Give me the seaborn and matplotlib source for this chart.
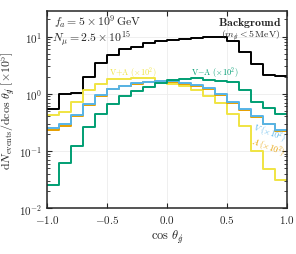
import numpy as np
import pandas as pd
import matplotlib
matplotlib.use("Agg")
import matplotlib.pyplot as plt
import seaborn as sns

sns.set_style("ticks", {"xtick.direction": "in", "ytick.direction": "in",
                        "axes.grid": True, "grid.color": ".93"})
plt.rcParams["font.family"] = "serif"
plt.rcParams["font.serif"] = ["cmr10"]
plt.rcParams["mathtext.fontset"] = "cm"
plt.rcParams["axes.formatter.use_mathtext"] = True
plt.rcParams["axes.unicode_minus"] = False

# Bin edges in cos(theta)
edges = [-1.0, -0.9, -0.8, -0.7, -0.6, -0.5, -0.4, -0.3, -0.2, -0.1, 0.0,
         0.1, 0.2, 0.3, 0.4, 0.5, 0.6, 0.7, 0.8, 0.9, 1.0]

background = [0.55, 0.97, 1.05, 1.95, 3.4, 4.7, 6.0, 6.6, 7.7, 8.5,
              8.7, 9.0, 9.5, 9.9, 9.8, 8.3, 5.3, 3.3, 2.1, 2.05]
v_plus_a = [0.42, 0.48, 0.71, 1.14, 1.5, 1.83, 1.83, 1.9, 1.85, 1.7,
            1.5, 1.34, 1.14, 0.9, 0.68, 0.45, 0.27, 0.1, 0.048, 0.031]
v_only = [0.25, 0.29, 0.42, 0.65, 0.95, 1.22, 1.38, 1.52, 1.6, 1.65,
          1.65, 1.55, 1.42, 1.27, 0.98, 0.71, 0.55, 0.4, 0.3, 0.23]
a_only = [0.23, 0.27, 0.41, 0.63, 0.93, 1.2, 1.37, 1.5, 1.62, 1.68,
          1.62, 1.5, 1.38, 1.22, 0.95, 0.69, 0.53, 0.39, 0.29, 0.22]
v_minus_a = [0.025, 0.061, 0.124, 0.265, 0.45, 0.67, 0.9, 1.11, 1.31, 1.54,
             1.72, 1.82, 1.86, 1.75, 1.68, 1.6, 1.15, 0.71, 0.56, 0.45]

# drawing order: later ones end up on top
channels = ["Background", "V+A", "A", "V", "V-A"]
series = [background, v_plus_a, a_only, v_only, v_minus_a]
colors = {"Background": "black", "V+A": "#f0e442", "V": "#56b4e9",
          "A": "#e69f00", "V-A": "#009e73"}

centers = [(edges[i] + edges[i + 1]) / 2 for i in range(len(edges) - 1)]
df = pd.concat([pd.DataFrame({"cos": centers, "weight": s, "channel": c})
                for c, s in zip(channels, series)], ignore_index=True)

fig = plt.figure(figsize=(2.96, 2.55), dpi=100)
ax = fig.add_axes([0.159, 0.180, 0.811, 0.773])

for c in channels:
    sns.histplot(data=df[df.channel == c], x="cos", weights="weight", bins=edges,
                 element="step", fill=False, color=colors[c], linewidth=1.4, ax=ax)

ax.set_yscale("log")
ax.set(xlim=(-1, 1), ylim=(1e-2, 28))
ax.set_xticks([-1.0, -0.5, 0.0, 0.5, 1.0])
ax.set_xticklabels(["$-1.0$", "$-0.5$", "$0.0$", "$0.5$", "$1.0$"])
ax.tick_params(which="both", top=True, right=True, labelsize=8)
ax.tick_params(which="major", length=3.5)
ax.tick_params(which="minor", length=2)
ax.grid(True, which="major", color=".93", linewidth=0.6)
for sp in ax.spines.values():
    sp.set_linewidth(1.1)

ax.set_xlabel(r"$\cos\,\theta_{g\!\!\!/}$", fontsize=9, labelpad=2)
ax.set_ylabel(r"$\mathrm{d}N_{\mathrm{events}}/\mathrm{d}\cos\,\theta_{g\!\!\!/}\;[\times 10^5]$",
              fontsize=8.5, labelpad=0.5)

ax.text(0.03, 0.95, r"$f_a = 5\times10^9\,\mathrm{GeV}$", transform=ax.transAxes,
        fontsize=8.5, va="center", ha="left")
ax.text(0.02, 0.865, r"$N_\mu = 2.5\times10^{15}$", transform=ax.transAxes,
        fontsize=8.5, va="center", ha="left")
ax.text(0.98, 0.945, r"$\mathbf{Background}$", transform=ax.transAxes,
        fontsize=8.5, va="center", ha="right")
ax.text(0.97, 0.875, r"$(m_{g\!\!\!/} < 5\,\mathrm{MeV})$", transform=ax.transAxes,
        fontsize=7, va="center", ha="right")

ax.text(0.26, 0.692, r"$\mathrm{V{+}A}\ (\times10^2)$", transform=ax.transAxes,
        fontsize=6, color=colors["V+A"], va="center", ha="left")
ax.text(0.60, 0.695, r"$\mathrm{V{-}A}\ (\times10^2)$", transform=ax.transAxes,
        fontsize=6, color=colors["V-A"], va="center", ha="left")
ax.text(0.925, 0.39, r"$V\ (\times10^2)$", transform=ax.transAxes, rotation=-20,
        fontsize=6, color=colors["V"], va="center", ha="center")
ax.text(0.92, 0.315, r"$A\ (\times10^2)$", transform=ax.transAxes, rotation=-20,
        fontsize=6, color=colors["A"], va="center", ha="center")

plt.savefig("out.png", dpi=100)
